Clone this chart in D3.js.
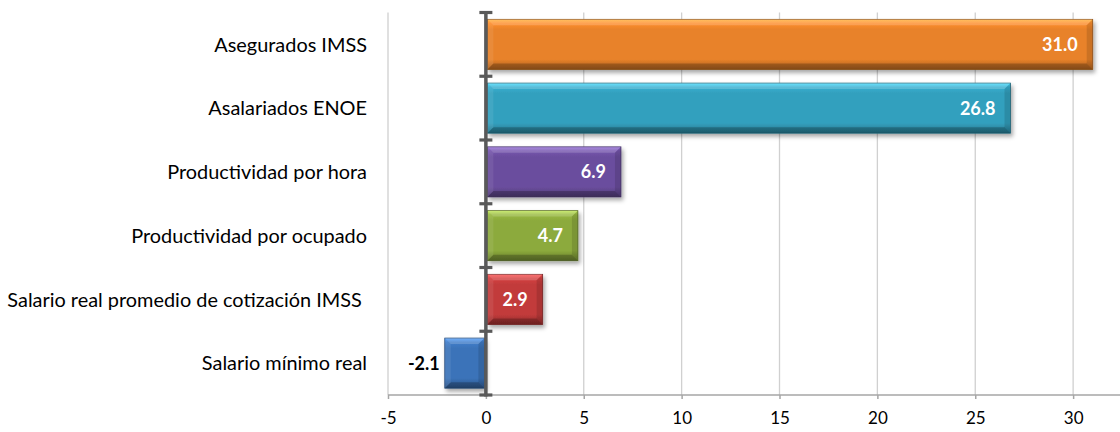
<!DOCTYPE html>
<html><head><meta charset="utf-8">
<script src="https://cdn.jsdelivr.net/npm/d3@7"></script>
<style>body{margin:0;background:#fff}svg{display:block}</style>
</head><body><svg id="c" width="1120" height="432"></svg>
<script>
const categories = ["Asegurados IMSS","Asalariados ENOE","Productividad por hora","Productividad por ocupado","Salario real promedio de cotización IMSS ","Salario mínimo real"];
const values = [31.0, 26.8, 6.9, 4.7, 2.9, -2.1];
const labels = ["31.0","26.8","6.9","4.7","2.9","-2.1"];
const colors = ["#E8822A","#33A0BE","#6B4E9E","#8CAA3C","#C23B3B","#3B73B9"];
const xTicks = [-5,0,5,10,15,20,25,30];

const svg = d3.select("#c");
const x = d3.scaleLinear().domain([-5,35]).range([388,1171]);
const y = d3.scaleBand().domain(categories).range([12.5,395]).paddingInner(0.215).paddingOuter(0.1075);
const yb = d3.scaleBand().domain(categories).range([12.5,395]);

const defs = svg.append("defs");
const f = defs.append("filter").attr("id","sh").attr("x","-10%").attr("y","-20%").attr("width","130%").attr("height","160%");
f.append("feDropShadow").attr("dx",2).attr("dy",3).attr("stdDeviation",2).attr("flood-color","#000").attr("flood-opacity",0.35);
colors.forEach((c,i)=>{
  const g = defs.append("linearGradient").attr("id","g"+i).attr("x1",0).attr("y1",0).attr("x2",0).attr("y2",1);
  const base = d3.color(c);
  g.append("stop").attr("offset","0%").attr("stop-color",base.brighter(0.9));
  g.append("stop").attr("offset","8%").attr("stop-color",base.brighter(0.25));
  g.append("stop").attr("offset","20%").attr("stop-color",base);
  g.append("stop").attr("offset","80%").attr("stop-color",base);
  g.append("stop").attr("offset","100%").attr("stop-color",base.darker(0.9));
});

// gridlines
svg.append("g").selectAll("line").data(xTicks.filter(d=>d!==0)).join("line")
  .attr("x1",d=>x(d)).attr("x2",d=>x(d)).attr("y1",12.5).attr("y2",395)
  .attr("stroke","#d0d0d0").attr("stroke-width",1.3);

// bottom axis
const xAxis = svg.append("g").attr("transform","translate(0,395)")
  .call(d3.axisBottom(x).tickValues(xTicks).tickSize(4).tickPadding(13).tickFormat(d=>String(d)));
xAxis.select(".domain").attr("stroke","#a6a6a6").attr("stroke-width",1.5).attr("d","M388,0H1120");
xAxis.selectAll(".tick line").attr("stroke","#a6a6a6").attr("stroke-width",1.5);
xAxis.selectAll("text").attr("font-family","Lato, 'Open Sans', sans-serif").attr("font-size",17).attr("fill","#000");

// bars
const bars = svg.append("g").selectAll("g").data(categories).join("g");
bars.each(function(c,i){
  const v = values[i];
  const x0 = Math.min(x(0),x(v)) + (v>0?1.5:0), x1 = Math.max(x(0),x(v)) - (v<0?1.5:0);
  const w = x1-x0, h = y.bandwidth(), yy = y(c);
  const g = d3.select(this);
  g.append("rect").attr("x",x0).attr("y",yy).attr("width",w).attr("height",h)
    .attr("fill","url(#g"+i+")").attr("stroke",d3.color(colors[i]).darker(1.2)).attr("stroke-width",0.8).attr("filter","url(#sh)");
  const b = 6;
  const poly = (pts,fill,op)=>g.append("polygon").attr("points",pts.map(p=>p.join(",")).join(" ")).attr("fill",fill).attr("fill-opacity",op);
  poly([[x0,yy],[x1,yy],[x1-b,yy+b],[x0+b,yy+b]],"#fff",0.18);
  poly([[x0,yy+h],[x1,yy+h],[x1-b,yy+h-b],[x0+b,yy+h-b]],"#000",0.22);
  poly([[x0,yy],[x0+b,yy+b],[x0+b,yy+h-b],[x0,yy+h]],"#fff",0.08);
  poly([[x1,yy],[x1-b,yy+b],[x1-b,yy+h-b],[x1,yy+h]],"#000",0.12);
  const inside = v>0;
  g.append("text").text(labels[i])
    .attr("x", inside ? x(v)-15 : x(v)-5)
    .attr("y", yy+h/2).attr("dy","0.36em")
    .attr("text-anchor","end")
    .attr("font-family","Lato, 'Open Sans', sans-serif").attr("font-weight","bold").attr("font-size",18)
    .attr("fill", inside ? "#fff" : "#000");
});

// zero axis with ticks
const zx = x(0);
svg.append("line").attr("x1",zx).attr("x2",zx).attr("y1",12.5).attr("y2",396.5).attr("stroke","#595959").attr("stroke-width",3.5);
svg.append("g").selectAll("line").data(d3.range(categories.length+1)).join("line")
  .attr("x1",zx-6.5).attr("x2",zx+6.5)
  .attr("y1",i=> i<categories.length ? yb(categories[i]) : yb(categories[i-1])+yb.bandwidth())
  .attr("y2",i=> i<categories.length ? yb(categories[i]) : yb(categories[i-1])+yb.bandwidth())
  .attr("stroke","#595959").attr("stroke-width",3.2);

// category labels
svg.append("g").selectAll("text").data(categories).join("text")
  .attr("x",367).attr("y",c=>yb(c)+yb.bandwidth()/2).attr("dy","0.36em")
  .attr("text-anchor","end").attr("xml:space","preserve")
  .attr("font-family","Lato, 'Open Sans', sans-serif").attr("font-size",19.9).attr("fill","#000")
  .text(c=>c);
</script></body></html>
